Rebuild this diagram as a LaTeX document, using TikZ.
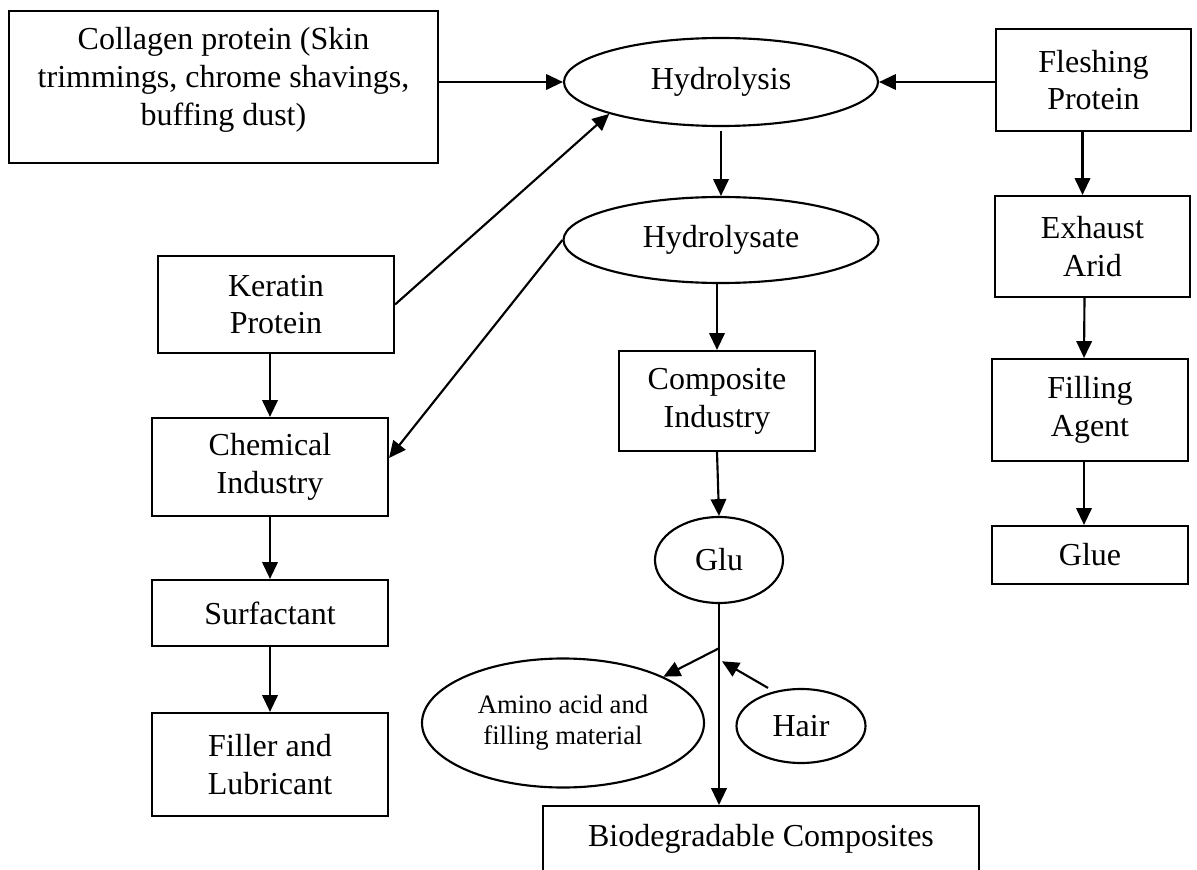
\documentclass[tikz,border=0pt]{standalone}
\usepackage{fontspec}
\setmainfont{Liberation Serif}
\usetikzlibrary{arrows.meta,shapes.geometric,calc}
\begin{document}
\begin{tikzpicture}[x=0.375pt,y=-0.375pt,
  every node/.style={font=\fontsize{12}{14.2}\selectfont, align=center, inner sep=0pt},
  sz/.style 2 args={minimum width=#1*0.375pt, minimum height=#2*0.375pt},
  box/.style={draw, rectangle, line width=0.8pt},
  oval/.style={draw, ellipse, line width=0.8pt},
  arr/.style={-{Triangle[length=6.3pt,width=5.8pt]}, line width=0.8pt}]
\useasboundingbox (0,0) rectangle (1197,870);

% nodes
\node[box, sz={429}{152}] (col) at (223.5,87) {};
\node (coltxt) at (223.5,80) {Collagen protein (Skin\\trimmings, chrome shavings,\\buffing dust)};
\node[oval, sz={314}{88}] (hyd) at (721,82) {Hydrolysis};
\node[box, sz={195}{102}] (fle) at (1093.5,80) {Fleshing\\Protein};
\node[box, sz={195}{101}] (exh) at (1092.5,246.5) {Exhaust\\Arid};
\node[box, sz={196}{102}] (fil) at (1090,410) {Filling\\Agent};
\node[box, sz={196}{58}] (glue) at (1090,555) {Glue};
\node[oval, sz={315}{86}] (hyl) at (721,240) {Hydrolysate};
\node[box, sz={236}{97}] (ker) at (276,304.5) {Keratin\\Protein};
\node[box, sz={236}{98}] (chem) at (270,467) {Chemical\\Industry};
\node[box, sz={236}{66}] (surf) at (270,613) {Surfactant};
\node[box, sz={236}{103}] (fill) at (270,764.5) {Filler and\\Lubricant};
\node[box, sz={196}{100}] (comp) at (717,401) {Composite\\Industry};
\node[oval, sz={128}{86}] (glu) at (719,560) {Glu};
\node[oval, sz={282}{129}, font=\fontsize{10}{11.6}\selectfont] (ami) at (563,723) {Amino acid and\\filling material};
\node[oval, sz={129}{74}] (hair) at (801,726) {Hair};
\node[box, minimum width=436*0.375pt, text height=11pt, text depth=8pt, inner sep=4pt, anchor=north] (bio) at (761,805) {Biodegradable Composites};

% connectors
\draw[arr] (col.east |- hyd.west) -- (hyd.west);
\draw[arr] (fle.west |- hyd.east) -- (hyd.east);
\draw[arr] (ker.east) -- (hyd.south west);
\draw[arr, shorten <=1.5pt] (hyd.south) -- (hyl.north);
\draw[arr] ($(fle.south)+(-11,0)$) -- ($(exh.north)+(-10,0)$);
\draw[arr] ($(exh.south)+(-8,0)$) -- ($(fil.north)+(-6,0)$);
\draw[arr] ($(fil.south)+(-6,0)$) -- ($(glue.north)+(-6,0)$);
\draw[arr] (hyl.south -| comp.north) -- (comp.north);
\coordinate (chemtip) at ($(chem.east)!0.18!(chem.north east)$);
\draw[arr] (hyl.west) -- (chemtip);
\draw[arr] (chem.north |- ker.south) -- (chem.north);
\draw[arr] (chem.south) -- (surf.north);
\draw[arr] (surf.south) -- (fill.north);
\draw[arr] (comp.south) -- (glu.north);
\coordinate (biotop) at (glu.south |- bio.north);
\draw[arr] (glu.south) -- (biotop);
\coordinate (br) at ($(glu.south)!0.22!(biotop)$);
\draw[arr] (br) -- (ami.north east);
\coordinate (hairtip) at ($(br)+(3,13)$);
\coordinate (hairstart) at ($(hair.north)+(-33,0)$);
\draw[arr] (hairstart) -- (hairtip);
\end{tikzpicture}
\end{document}
